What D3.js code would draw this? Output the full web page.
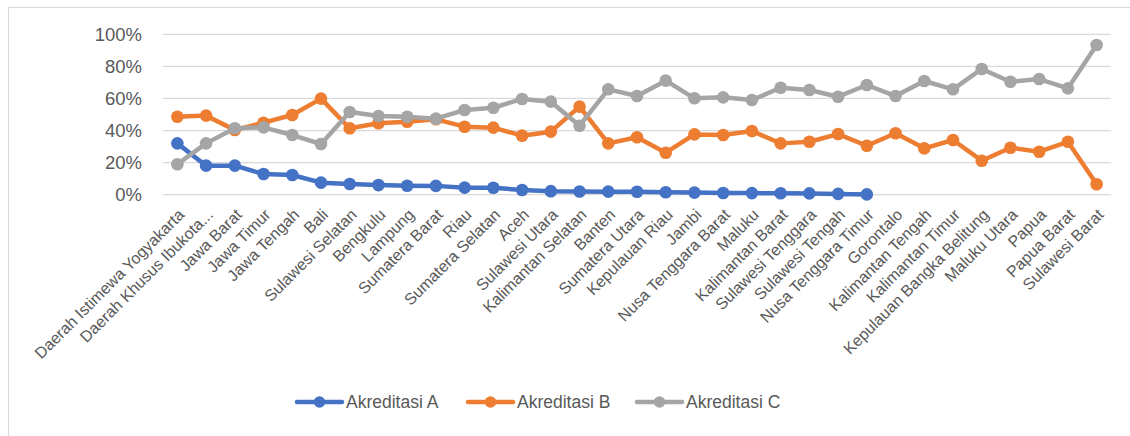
<!DOCTYPE html>
<html>
<head>
<meta charset="utf-8">
<script src="https://cdn.jsdelivr.net/npm/d3@7"></script>
<style>
  body { margin: 0; background: #fff; }
  text { font-family: "Liberation Sans", Arial, sans-serif; fill: #595959; }
</style>
</head>
<body>
<div id="chart"></div>
<script>
// provinces, in the order of the chart
const provinces = [
    "Daerah Istimewa Yogyakarta", "Daerah Khusus Ibukota...", "Jawa Barat", "Jawa Timur",
    "Jawa Tengah", "Bali", "Sulawesi Selatan", "Bengkulu", "Lampung", "Sumatera Barat",
    "Riau", "Sumatera Selatan", "Aceh", "Sulawesi Utara", "Kalimantan Selatan", "Banten",
    "Sumatera Utara", "Kepulauan Riau", "Jambi", "Nusa Tenggara Barat", "Maluku",
    "Kalimantan Barat", "Sulawesi Tenggara", "Sulawesi Tengah", "Nusa Tenggara Timur",
    "Gorontalo", "Kalimantan Tengah", "Kalimantan Timur", "Kepulauan Bangka Belitung",
    "Maluku Utara", "Papua", "Papua Barat", "Sulawesi Barat"
];

// percentages; series A stops after Nusa Tenggara Timur
const akreditasiA = [32.0, 18.1, 18.1, 12.9, 12.3, 7.5, 6.7, 6.0, 5.6, 5.5, 4.4, 4.3, 2.9,
    2.2, 2.0, 1.9, 1.8, 1.5, 1.3, 1.1, 1.0, 0.9, 0.8, 0.5, 0.2];
const akreditasiB = [48.6, 49.3, 40.3, 44.9, 49.7, 59.9, 41.4, 44.5, 45.5, 47.0, 42.4, 41.8,
    36.8, 39.3, 54.9, 32.0, 35.8, 26.2, 37.6, 37.2, 39.7, 32.0, 33.0, 37.8, 30.5, 38.3,
    28.9, 34.1, 21.2, 29.3, 26.8, 33.0, 6.5];
const akreditasiC = [19.0, 32.0, 41.4, 42.0, 37.2, 31.6, 51.6, 49.1, 48.6, 47.4, 52.8, 54.2,
    59.7, 58.0, 43.0, 65.7, 61.5, 71.1, 60.1, 60.7, 59.0, 66.7, 65.3, 61.1, 68.4, 61.5,
    70.9, 65.7, 78.4, 70.4, 72.1, 66.3, 93.3];

const seriesNames = ["Akreditasi A", "Akreditasi B", "Akreditasi C"];
const yTicks = [0, 20, 40, 60, 80, 100];

const series = [
    {name: seriesNames[0], values: akreditasiA, color: "#4472C4"},
    {name: seriesNames[1], values: akreditasiB, color: "#ED7D31"},
    {name: seriesNames[2], values: akreditasiC, color: "#A5A5A5"}
];

const W = 1130, H = 436;
const plot = {left: 163, right: 1111, top: 34.3, bottom: 194.7};

const svg = d3.select("#chart").append("svg")
    .attr("width", W)
    .attr("height", H);

// outer chart frame (runs off the right and bottom of the picture)
svg.append("rect")
    .attr("x", 8.5).attr("y", 7.5)
    .attr("width", W + 20).attr("height", H + 20)
    .attr("fill", "none")
    .attr("stroke", "#d9d9d9")
    .attr("stroke-width", 1);

const x = d3.scaleBand()
    .domain(provinces)
    .range([plot.left, plot.right]);

const y = d3.scaleLinear()
    .domain([0, 100])
    .range([plot.bottom, plot.top]);

// gridlines
svg.append("g")
    .selectAll("line")
    .data(yTicks)
    .enter()
    .append("line")
    .attr("x1", plot.left)
    .attr("x2", plot.right)
    .attr("y1", d => y(d))
    .attr("y2", d => y(d))
    .attr("stroke", "#d9d9d9")
    .attr("stroke-width", 1.3);

// y axis labels
const yAxis = d3.axisLeft(y)
    .tickValues(yTicks)
    .tickFormat(d => d + "%")
    .tickSize(0)
    .tickPadding(21);
const yg = svg.append("g")
    .attr("transform", `translate(${plot.left},0)`)
    .call(yAxis);
yg.select(".domain").remove();
yg.selectAll("text")
    .attr("font-size", 18.5)
    .attr("font-family", null)
    .attr("fill", "#595959");

// category labels, rotated
const xAxis = d3.axisBottom(x).tickSize(0).tickPadding(0);
const xg = svg.append("g")
    .attr("transform", `translate(0,${plot.bottom})`)
    .call(xAxis);
xg.select(".domain").remove();
xg.selectAll(".tick text")
    .attr("font-size", 16)
    .attr("font-family", null)
    .attr("fill", "#595959")
    .attr("text-anchor", "end")
    .attr("dy", null)
    .attr("y", 0)
    .attr("transform", "translate(8,21) rotate(-45)");

// lines and markers
const line = d3.line()
    .x((d, i) => x(provinces[i]) + x.bandwidth() / 2)
    .y(d => y(d));

series.forEach(s => {
    svg.append("path")
        .datum(s.values)
        .attr("fill", "none")
        .attr("stroke", s.color)
        .attr("stroke-width", 4.5)
        .attr("stroke-linejoin", "round")
        .attr("stroke-linecap", "round")
        .attr("d", line);
    svg.append("g")
        .selectAll("circle")
        .data(s.values)
        .enter()
        .append("circle")
        .attr("cx", (d, i) => x(provinces[i]) + x.bandwidth() / 2)
        .attr("cy", d => y(d))
        .attr("r", 6.3)
        .attr("fill", s.color);
});

// legend
const legendX = [297, 468, 637];
const legend = svg.append("g")
    .selectAll("g")
    .data(series)
    .enter()
    .append("g")
    .attr("transform", (d, i) => `translate(${legendX[i]},402)`);
legend.append("line")
    .attr("x1", 0).attr("x2", 45)
    .attr("stroke", d => d.color)
    .attr("stroke-width", 4.5)
    .attr("stroke-linecap", "round");
legend.append("circle")
    .attr("cx", 22.5)
    .attr("r", 5.8)
    .attr("fill", d => d.color);
legend.append("text")
    .attr("x", 49)
    .attr("dy", "0.36em")
    .attr("font-size", 17.5)
    .text(d => d.name);
</script>
</body>
</html>
